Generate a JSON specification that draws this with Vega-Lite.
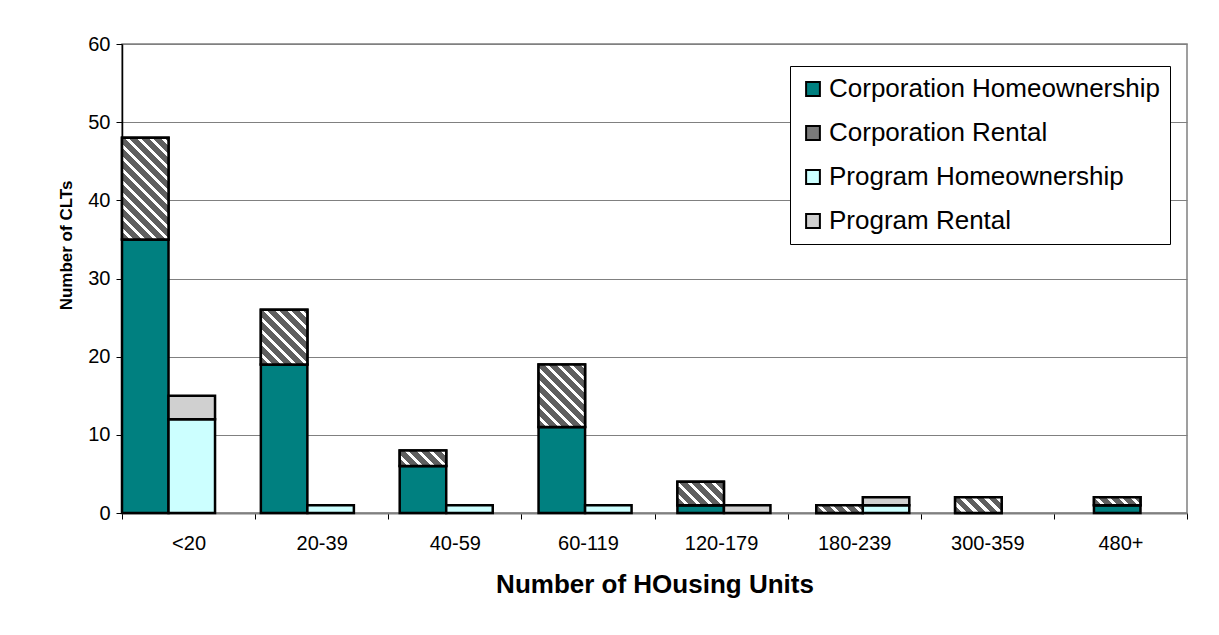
{
  "$schema": "https://vega.github.io/schema/vega-lite/v6.json",
  "width": 1065,
  "height": 469,
  "autosize": {"type": "none"},
  "padding": {"left": 122, "top": 44, "right": 32, "bottom": 122},
  "background": "white",
  "config": {
    "font": "Liberation Sans",
    "view": {"stroke": "#808080", "strokeWidth": 1.5}
  },
  "data": {
    "values": [
      {"units": "<20", "group": "Corporation", "series": "Corporation Homeownership", "count": 35},
      {"units": "<20", "group": "Corporation", "series": "Corporation Rental", "count": 13},
      {"units": "<20", "group": "Program", "series": "Program Homeownership", "count": 12},
      {"units": "<20", "group": "Program", "series": "Program Rental", "count": 3},
      {"units": "20-39", "group": "Corporation", "series": "Corporation Homeownership", "count": 19},
      {"units": "20-39", "group": "Corporation", "series": "Corporation Rental", "count": 7},
      {"units": "20-39", "group": "Program", "series": "Program Homeownership", "count": 1},
      {"units": "40-59", "group": "Corporation", "series": "Corporation Homeownership", "count": 6},
      {"units": "40-59", "group": "Corporation", "series": "Corporation Rental", "count": 2},
      {"units": "40-59", "group": "Program", "series": "Program Homeownership", "count": 1},
      {"units": "60-119", "group": "Corporation", "series": "Corporation Homeownership", "count": 11},
      {"units": "60-119", "group": "Corporation", "series": "Corporation Rental", "count": 8},
      {"units": "60-119", "group": "Program", "series": "Program Homeownership", "count": 1},
      {"units": "120-179", "group": "Corporation", "series": "Corporation Homeownership", "count": 1},
      {"units": "120-179", "group": "Corporation", "series": "Corporation Rental", "count": 3},
      {"units": "120-179", "group": "Program", "series": "Program Rental", "count": 1},
      {"units": "180-239", "group": "Corporation", "series": "Corporation Rental", "count": 1},
      {"units": "180-239", "group": "Program", "series": "Program Homeownership", "count": 1},
      {"units": "180-239", "group": "Program", "series": "Program Rental", "count": 1},
      {"units": "300-359", "group": "Corporation", "series": "Corporation Rental", "count": 2},
      {"units": "480+", "group": "Corporation", "series": "Corporation Homeownership", "count": 1},
      {"units": "480+", "group": "Corporation", "series": "Corporation Rental", "count": 1}
    ]
  },
  "transform": [
    {"stack": "count", "groupby": ["units", "group"], "sort": [{"field": "series", "order": "ascending"}], "as": ["y0", "y1"]}
  ],
  "layer": [
    {
      "encoding": {
        "x": {
          "field": "units", "type": "ordinal",
          "sort": ["<20", "20-39", "40-59", "60-119", "120-179", "180-239", "300-359", "480+"],
          "scale": {"type": "band", "paddingInner": 0.33, "paddingOuter": 0},
          "axis": null
        },
        "xOffset": {
          "field": "group", "type": "nominal",
          "sort": ["Corporation", "Program"],
          "scale": {"domain": ["Corporation", "Program"], "paddingInner": 0, "paddingOuter": 0}
        },
        "y": {
          "field": "y1", "type": "quantitative",
          "scale": {"domain": [0, 60], "nice": false},
          "axis": {
            "values": [0, 10, 20, 30, 40, 50, 60],
            "grid": true, "gridColor": "#808080", "gridWidth": 1,
            "domainColor": "black", "domainWidth": 1.5,
            "tickColor": "black", "tickSize": 6, "tickWidth": 1,
            "labelFontSize": 20, "labelPadding": 6, "labelColor": "black",
            "title": "Number of CLTs", "titleFontSize": 17, "titleFontWeight": "bold",
            "titleColor": "black", "titlePadding": 12, "titleY": 201
          }
        },
        "y2": {"field": "y0"}
      },
      "layer": [
        {
          "mark": {"type": "bar", "stroke": "black", "strokeWidth": 2.5},
          "encoding": {
            "color": {
              "field": "series", "type": "nominal",
              "scale": {
                "domain": ["Corporation Homeownership", "Corporation Rental", "Program Homeownership", "Program Rental"],
                "range": ["#008080", "#7a7a7a", "#ccffff", "#d0d0d0"]
              },
              "legend": {
                "orient": "none", "legendX": 668, "legendY": 22,
                "title": null,
                "strokeColor": "black", "fillColor": "white", "padding": 10,
                "symbolType": "square", "symbolSize": 190,
                "symbolStrokeColor": "black", "symbolStrokeWidth": 2,
                "labelFontSize": 26, "labelLimit": 0, "labelColor": "black",
                "rowPadding": 18, "labelOffset": 3
              }
            }
          }
        },
        {
          "transform": [{"filter": "datum.series == 'Corporation Rental' && datum.units == '<20'"}],
          "mark": {"type": "bar", "stroke": "black", "strokeWidth": 2.5,
            "fill": {"gradient": "linear", "x1": 0, "y1": 1, "x2": 0.5516, "y2": -0.2052, "stops": [
              {"offset": 0, "color": "#5f5f5f"}, {"offset": 0.0527, "color": "#5f5f5f"}, {"offset": 0.0527, "color": "#ffffff"}, {"offset": 0.0810, "color": "#ffffff"},
              {"offset": 0.0810, "color": "#5f5f5f"}, {"offset": 0.1337, "color": "#5f5f5f"}, {"offset": 0.1337, "color": "#ffffff"}, {"offset": 0.1621, "color": "#ffffff"},
              {"offset": 0.1621, "color": "#5f5f5f"}, {"offset": 0.2148, "color": "#5f5f5f"}, {"offset": 0.2148, "color": "#ffffff"}, {"offset": 0.2431, "color": "#ffffff"},
              {"offset": 0.2431, "color": "#5f5f5f"}, {"offset": 0.2958, "color": "#5f5f5f"}, {"offset": 0.2958, "color": "#ffffff"}, {"offset": 0.3241, "color": "#ffffff"},
              {"offset": 0.3241, "color": "#5f5f5f"}, {"offset": 0.3768, "color": "#5f5f5f"}, {"offset": 0.3768, "color": "#ffffff"}, {"offset": 0.4052, "color": "#ffffff"},
              {"offset": 0.4052, "color": "#5f5f5f"}, {"offset": 0.4579, "color": "#5f5f5f"}, {"offset": 0.4579, "color": "#ffffff"}, {"offset": 0.4862, "color": "#ffffff"},
              {"offset": 0.4862, "color": "#5f5f5f"}, {"offset": 0.5389, "color": "#5f5f5f"}, {"offset": 0.5389, "color": "#ffffff"}, {"offset": 0.5672, "color": "#ffffff"},
              {"offset": 0.5672, "color": "#5f5f5f"}, {"offset": 0.6199, "color": "#5f5f5f"}, {"offset": 0.6199, "color": "#ffffff"}, {"offset": 0.6483, "color": "#ffffff"},
              {"offset": 0.6483, "color": "#5f5f5f"}, {"offset": 0.7010, "color": "#5f5f5f"}, {"offset": 0.7010, "color": "#ffffff"}, {"offset": 0.7293, "color": "#ffffff"},
              {"offset": 0.7293, "color": "#5f5f5f"}, {"offset": 0.7820, "color": "#5f5f5f"}, {"offset": 0.7820, "color": "#ffffff"}, {"offset": 0.8104, "color": "#ffffff"},
              {"offset": 0.8104, "color": "#5f5f5f"}, {"offset": 0.8631, "color": "#5f5f5f"}, {"offset": 0.8631, "color": "#ffffff"}, {"offset": 0.8914, "color": "#ffffff"},
              {"offset": 0.8914, "color": "#5f5f5f"}, {"offset": 0.9441, "color": "#5f5f5f"}, {"offset": 0.9441, "color": "#ffffff"}, {"offset": 0.9724, "color": "#ffffff"},
              {"offset": 0.9724, "color": "#5f5f5f"}, {"offset": 1, "color": "#5f5f5f"}
            ]}
          }
        },
        {
          "transform": [{"filter": "datum.series == 'Corporation Rental' && datum.units == '20-39'"}],
          "mark": {"type": "bar", "stroke": "black", "strokeWidth": 2.5,
            "fill": {"gradient": "linear", "x1": 0, "y1": 1, "x2": 0.9130, "y2": -0.0740, "stops": [
              {"offset": 0, "color": "#5f5f5f"}, {"offset": 0.0771, "color": "#5f5f5f"}, {"offset": 0.0771, "color": "#ffffff"}, {"offset": 0.1186, "color": "#ffffff"},
              {"offset": 0.1186, "color": "#5f5f5f"}, {"offset": 0.1957, "color": "#5f5f5f"}, {"offset": 0.1957, "color": "#ffffff"}, {"offset": 0.2372, "color": "#ffffff"},
              {"offset": 0.2372, "color": "#5f5f5f"}, {"offset": 0.3143, "color": "#5f5f5f"}, {"offset": 0.3143, "color": "#ffffff"}, {"offset": 0.3559, "color": "#ffffff"},
              {"offset": 0.3559, "color": "#5f5f5f"}, {"offset": 0.4330, "color": "#5f5f5f"}, {"offset": 0.4330, "color": "#ffffff"}, {"offset": 0.4745, "color": "#ffffff"},
              {"offset": 0.4745, "color": "#5f5f5f"}, {"offset": 0.5516, "color": "#5f5f5f"}, {"offset": 0.5516, "color": "#ffffff"}, {"offset": 0.5931, "color": "#ffffff"},
              {"offset": 0.5931, "color": "#5f5f5f"}, {"offset": 0.6702, "color": "#5f5f5f"}, {"offset": 0.6702, "color": "#ffffff"}, {"offset": 0.7117, "color": "#ffffff"},
              {"offset": 0.7117, "color": "#5f5f5f"}, {"offset": 0.7888, "color": "#5f5f5f"}, {"offset": 0.7888, "color": "#ffffff"}, {"offset": 0.8304, "color": "#ffffff"},
              {"offset": 0.8304, "color": "#5f5f5f"}, {"offset": 0.9075, "color": "#5f5f5f"}, {"offset": 0.9075, "color": "#ffffff"}, {"offset": 0.9490, "color": "#ffffff"},
              {"offset": 0.9490, "color": "#5f5f5f"}, {"offset": 1, "color": "#5f5f5f"}
            ]}
          }
        },
        {
          "transform": [{"filter": "datum.series == 'Corporation Rental' && (datum.units == '40-59' || datum.units == '300-359')"}],
          "mark": {"type": "bar", "stroke": "black", "strokeWidth": 2.5,
            "fill": {"gradient": "linear", "x1": 0, "y1": 1, "x2": 1.2004, "y2": 0.5973, "stops": [
              {"offset": 0, "color": "#5f5f5f"}, {"offset": 0.1255, "color": "#5f5f5f"}, {"offset": 0.1255, "color": "#ffffff"}, {"offset": 0.1931, "color": "#ffffff"},
              {"offset": 0.1931, "color": "#5f5f5f"}, {"offset": 0.3185, "color": "#5f5f5f"}, {"offset": 0.3185, "color": "#ffffff"}, {"offset": 0.3861, "color": "#ffffff"},
              {"offset": 0.3861, "color": "#5f5f5f"}, {"offset": 0.5116, "color": "#5f5f5f"}, {"offset": 0.5116, "color": "#ffffff"}, {"offset": 0.5792, "color": "#ffffff"},
              {"offset": 0.5792, "color": "#5f5f5f"}, {"offset": 0.7046, "color": "#5f5f5f"}, {"offset": 0.7046, "color": "#ffffff"}, {"offset": 0.7722, "color": "#ffffff"},
              {"offset": 0.7722, "color": "#5f5f5f"}, {"offset": 0.8977, "color": "#5f5f5f"}, {"offset": 0.8977, "color": "#ffffff"}, {"offset": 0.9653, "color": "#ffffff"},
              {"offset": 0.9653, "color": "#5f5f5f"}, {"offset": 1, "color": "#5f5f5f"}
            ]}
          }
        },
        {
          "transform": [{"filter": "datum.series == 'Corporation Rental' && datum.units == '60-119'"}],
          "mark": {"type": "bar", "stroke": "black", "strokeWidth": 2.5,
            "fill": {"gradient": "linear", "x1": 0, "y1": 1, "x2": 0.8352, "y2": -0.1226, "stops": [
              {"offset": 0, "color": "#5f5f5f"}, {"offset": 0.0716, "color": "#5f5f5f"}, {"offset": 0.0716, "color": "#ffffff"}, {"offset": 0.1101, "color": "#ffffff"},
              {"offset": 0.1101, "color": "#5f5f5f"}, {"offset": 0.1817, "color": "#5f5f5f"}, {"offset": 0.1817, "color": "#ffffff"}, {"offset": 0.2203, "color": "#ffffff"},
              {"offset": 0.2203, "color": "#5f5f5f"}, {"offset": 0.2919, "color": "#5f5f5f"}, {"offset": 0.2919, "color": "#ffffff"}, {"offset": 0.3304, "color": "#ffffff"},
              {"offset": 0.3304, "color": "#5f5f5f"}, {"offset": 0.4020, "color": "#5f5f5f"}, {"offset": 0.4020, "color": "#ffffff"}, {"offset": 0.4405, "color": "#ffffff"},
              {"offset": 0.4405, "color": "#5f5f5f"}, {"offset": 0.5121, "color": "#5f5f5f"}, {"offset": 0.5121, "color": "#ffffff"}, {"offset": 0.5507, "color": "#ffffff"},
              {"offset": 0.5507, "color": "#5f5f5f"}, {"offset": 0.6223, "color": "#5f5f5f"}, {"offset": 0.6223, "color": "#ffffff"}, {"offset": 0.6608, "color": "#ffffff"},
              {"offset": 0.6608, "color": "#5f5f5f"}, {"offset": 0.7324, "color": "#5f5f5f"}, {"offset": 0.7324, "color": "#ffffff"}, {"offset": 0.7709, "color": "#ffffff"},
              {"offset": 0.7709, "color": "#5f5f5f"}, {"offset": 0.8425, "color": "#5f5f5f"}, {"offset": 0.8425, "color": "#ffffff"}, {"offset": 0.8811, "color": "#ffffff"},
              {"offset": 0.8811, "color": "#5f5f5f"}, {"offset": 0.9527, "color": "#5f5f5f"}, {"offset": 0.9527, "color": "#ffffff"}, {"offset": 0.9912, "color": "#ffffff"},
              {"offset": 0.9912, "color": "#5f5f5f"}, {"offset": 1, "color": "#5f5f5f"}
            ]}
          }
        },
        {
          "transform": [{"filter": "datum.series == 'Corporation Rental' && datum.units == '120-179'"}],
          "mark": {"type": "bar", "stroke": "black", "strokeWidth": 2.5,
            "fill": {"gradient": "linear", "x1": 0, "y1": 1, "x2": 1.1991, "y2": 0.3940, "stops": [
              {"offset": 0, "color": "#5f5f5f"}, {"offset": 0.1115, "color": "#5f5f5f"}, {"offset": 0.1115, "color": "#ffffff"}, {"offset": 0.1715, "color": "#ffffff"},
              {"offset": 0.1715, "color": "#5f5f5f"}, {"offset": 0.2830, "color": "#5f5f5f"}, {"offset": 0.2830, "color": "#ffffff"}, {"offset": 0.3431, "color": "#ffffff"},
              {"offset": 0.3431, "color": "#5f5f5f"}, {"offset": 0.4546, "color": "#5f5f5f"}, {"offset": 0.4546, "color": "#ffffff"}, {"offset": 0.5146, "color": "#ffffff"},
              {"offset": 0.5146, "color": "#5f5f5f"}, {"offset": 0.6261, "color": "#5f5f5f"}, {"offset": 0.6261, "color": "#ffffff"}, {"offset": 0.6861, "color": "#ffffff"},
              {"offset": 0.6861, "color": "#5f5f5f"}, {"offset": 0.7976, "color": "#5f5f5f"}, {"offset": 0.7976, "color": "#ffffff"}, {"offset": 0.8576, "color": "#ffffff"},
              {"offset": 0.8576, "color": "#5f5f5f"}, {"offset": 0.9691, "color": "#5f5f5f"}, {"offset": 0.9691, "color": "#ffffff"}, {"offset": 1, "color": "#ffffff"}
            ]}
          }
        },
        {
          "transform": [{"filter": "datum.series == 'Corporation Rental' && (datum.units == '180-239' || datum.units == '480+')"}],
          "mark": {"type": "bar", "stroke": "black", "strokeWidth": 2.5,
            "fill": {"gradient": "linear", "x1": 0, "y1": 1, "x2": 1.1358, "y2": 0.8095, "stops": [
              {"offset": 0, "color": "#5f5f5f"}, {"offset": 0.1435, "color": "#5f5f5f"}, {"offset": 0.1435, "color": "#ffffff"}, {"offset": 0.2208, "color": "#ffffff"},
              {"offset": 0.2208, "color": "#5f5f5f"}, {"offset": 0.3643, "color": "#5f5f5f"}, {"offset": 0.3643, "color": "#ffffff"}, {"offset": 0.4415, "color": "#ffffff"},
              {"offset": 0.4415, "color": "#5f5f5f"}, {"offset": 0.5850, "color": "#5f5f5f"}, {"offset": 0.5850, "color": "#ffffff"}, {"offset": 0.6623, "color": "#ffffff"},
              {"offset": 0.6623, "color": "#5f5f5f"}, {"offset": 0.8058, "color": "#5f5f5f"}, {"offset": 0.8058, "color": "#ffffff"}, {"offset": 0.8830, "color": "#ffffff"},
              {"offset": 0.8830, "color": "#5f5f5f"}, {"offset": 1, "color": "#5f5f5f"}
            ]}
          }
        }
      ]
    },
    {
      "mark": {"type": "point", "opacity": 0},
      "encoding": {
        "x": {
          "field": "units", "type": "ordinal",
          "sort": ["<20", "20-39", "40-59", "60-119", "120-179", "180-239", "300-359", "480+"],
          "scale": {"type": "band", "paddingInner": 0, "paddingOuter": 0},
          "axis": {
            "orient": "bottom", "labelAngle": 0,
            "tickBand": "extent", "tickColor": "black", "tickSize": 6, "tickWidth": 1,
            "domainColor": "#808080", "domainWidth": 2,
            "labelFontSize": 20, "labelPadding": 14, "labelColor": "black",
            "title": "Number of HOusing Units", "titleFontSize": 26, "titleFontWeight": "bold",
            "titleColor": "black", "titlePadding": 18
          }
        }
      }
    }
  ],
  "resolve": {"scale": {"x": "independent"}}
}
